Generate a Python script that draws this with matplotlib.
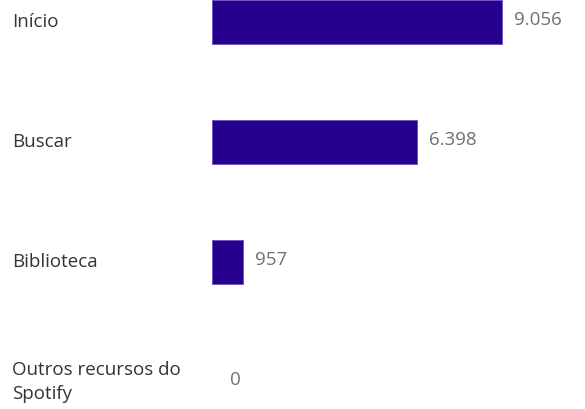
"""Horizontal bar chart of Spotify feature usage."""

import matplotlib.pyplot as plt

plt.rcParams["font.family"] = ["Open Sans", "DejaVu Sans"]

categories = ["Início", "Buscar", "Biblioteca", "Outros recursos do\nSpotify"]
values = [9056, 6398, 957, 0]
value_labels = ["9.056", "6.398", "957", "0"]

BAR_COLOR = "#26008c"
EDGE_COLOR = "#6f55c4"

figure = plt.figure(figsize=(5.85, 4.09), dpi=100)
axis = figure.add_axes([212 / 585, 0, 373 / 585, 1])

positions = list(range(len(categories)))
axis.barh(
    positions,
    values,
    height=0.37,
    color=BAR_COLOR,
    edgecolor=EDGE_COLOR,
    linewidth=[0.7 if value else 0 for value in values],
)

axis.set_xlim(0, 373 * 9056 / 290)
axis.set_ylim((409 - 22) / 120, -22 / 120)
axis.axis("off")

for position, value, label in zip(positions, values, value_labels):
    offset = 12 if value else 18
    axis.annotate(
        label,
        (value, position),
        xytext=(offset, 2),
        textcoords="offset pixels",
        va="center",
        ha="left",
        fontsize=13.5,
        color="#707070",
    )
    axis.annotate(
        categories[position],
        (0, position),
        xytext=(12 - 212, 0),
        textcoords="offset pixels",
        va="center",
        ha="left",
        fontsize=13.5,
        color="#333333",
        linespacing=1.45,
    )

figure.savefig("out.png", dpi=100)
